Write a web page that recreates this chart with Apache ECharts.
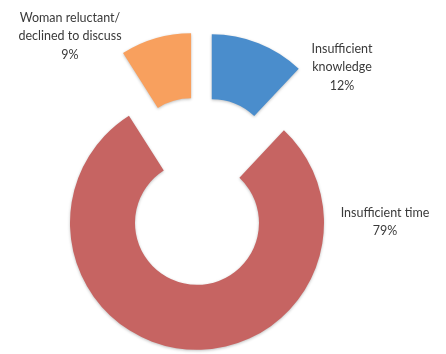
<!DOCTYPE html>
<html><head><meta charset="utf-8">
<script src="https://cdn.jsdelivr.net/npm/echarts@6/dist/echarts.min.js"></script>
<style>html,body{margin:0;padding:0;background:#fff}#c{width:446px;height:354px}</style>
</head><body><div id="c"></div>
<script>
const categories = ['Insufficient\nknowledge', 'Insufficient time', 'Woman reluctant/\ndeclined to discuss'];
const values = [12, 79, 9];
const colors = ['#4a8dcc', '#c66462', '#f8a05e'];

// layout (not data)
const CX = 200, CY = 191, EXPLODE = 32;
const labelPos = [[342, 67], [385, 222], [70, 36]];

const total = values.reduce((a, b) => a + b, 0);
let acc = 0;
const series = values.map((v, i) => {
  const mid = (acc + v / 2) / total * 2 * Math.PI;
  acc += v;
  const cx = CX + EXPLODE * Math.sin(mid);
  const cy = CY - EXPLODE * Math.cos(mid);
  return {
    type: 'pie',
    center: [cx, cy],
    radius: [62, 127],
    startAngle: 90,
    clockwise: true,
    silent: true,
    emphasis: {disabled: true},
    labelLine: {show: false},
    label: {
      fontFamily: 'Lato',
      fontSize: 12.5,
      lineHeight: 18.5,
      color: '#3a3a3a',
      align: 'center',
      formatter: p => p.name + '\n' + p.value + '%'
    },
    labelLayout: function (p) {
      return {x: labelPos[i][0], y: labelPos[i][1], align: 'center', verticalAlign: 'middle'};
    },
    data: categories.map((c, j) => ({
      name: c,
      value: values[j],
      label: {show: j === i},
      itemStyle: j === i
        ? {color: colors[j], shadowBlur: 3, shadowColor: 'rgba(0,0,0,0.25)', shadowOffsetY: 1}
        : {color: 'rgba(0,0,0,0)'}
    }))
  };
});

const chart = echarts.init(document.getElementById('c'), null, {renderer: 'canvas'});
chart.setOption({animation: false, backgroundColor: '#fff', series: series});
</script></body></html>
